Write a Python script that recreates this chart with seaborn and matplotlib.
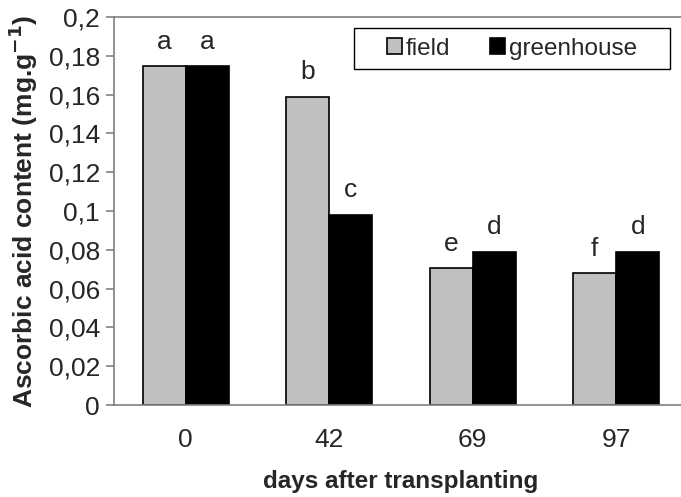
import pandas as pd
import matplotlib.pyplot as plt
import seaborn as sns
from matplotlib.path import Path
from matplotlib.ticker import FuncFormatter, MultipleLocator

sns.set_style('white')
plt.rcParams['font.family'] = ['Liberation Sans', 'DejaVu Sans']
plt.rcParams['font.size'] = 19

# Data
days = ['0', '42', '69', '97']
field = [0.1747, 0.1588, 0.0706, 0.0680]
greenhouse = [0.1747, 0.0980, 0.0789, 0.0789]
field_letters = ['a', 'b', 'e', 'f']
greenhouse_letters = ['a', 'c', 'd', 'd']

df = pd.DataFrame({
    'days': days * 2,
    'value': field + greenhouse,
    'treatment': ['field'] * len(days) + ['greenhouse'] * len(days),
})

fig = plt.figure(figsize=(6.81, 4.97), dpi=100)
ax = fig.add_axes([0.1674, 0.1851, 0.8429, 0.7807])

sns.barplot(data=df, x='days', y='value', hue='treatment', order=days,
            palette={'field': '#c0c0c0', 'greenhouse': 'black'},
            width=0.6, edgecolor='black', linewidth=1.2, errorbar=None,
            saturation=1, ax=ax)

# significance letters above bars
for cont, labs in zip(ax.containers, [field_letters, greenhouse_letters]):
    ax.bar_label(cont, labels=labs, padding=9, fontsize=19)

ax.set_ylim(0, 0.2)
ax.set_xlim(-0.5, 3.5)
ax.yaxis.set_major_locator(MultipleLocator(0.02))
ax.yaxis.set_major_formatter(FuncFormatter(lambda v, p: f'{round(v, 3):g}'.replace('.', ',')))

for side in ['left', 'top', 'bottom']:
    ax.spines[side].set_color('#808080')
    ax.spines[side].set_linewidth(1.2)
ax.spines['right'].set_visible(False)
ax.tick_params(axis='y', left=True, direction='out', length=6, width=1.2,
               color='#808080', labelsize=19, pad=4)
ax.tick_params(axis='x', bottom=False, labelsize=19, pad=13)

ax.set_ylabel(r'Ascorbic acid content (mg.g$^{\mathbf{-1}}$)', fontweight='bold',
              fontsize=19, labelpad=6)
ax.set_xlabel('days after transplanting', fontweight='bold', fontsize=17.5, labelpad=13)


# legend frame with more side padding than top/bottom, like the original
def wide_box(x0, y0, width, height, mutation_size):
    dx = 0.95 * mutation_size
    return Path([(x0 - dx, y0), (x0 + width + dx, y0), (x0 + width + dx, y0 + height),
                 (x0 - dx, y0 + height), (x0 - dx, y0)], closed=True)


handles, labels = ax.get_legend_handles_labels()
leg = ax.legend(handles, labels, ncol=2, loc='upper right',
                bbox_to_anchor=((670 - 23) / 681, 1 - 28 / 497), bbox_transform=fig.transFigure,
                borderaxespad=0, frameon=True, fancybox=False, edgecolor='black', framealpha=1,
                handlelength=0.6, handleheight=0.6, handletextpad=0.17,
                columnspacing=1.65, borderpad=0.4, fontsize=17.5)
leg.get_frame().set_linewidth(1)
leg.get_frame().set_boxstyle(wide_box)

fig.savefig('out.png', dpi=100)
